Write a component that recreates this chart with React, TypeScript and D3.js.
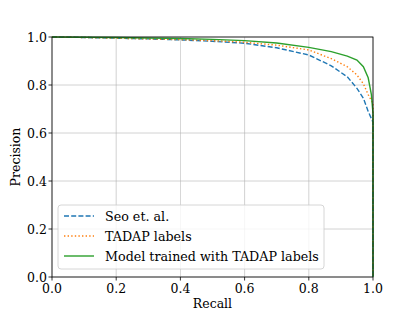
import * as d3 from 'd3';

// recall points (shared by all three curves)
const recall = [0, 0.1, 0.2, 0.3, 0.4, 0.5, 0.6, 0.7, 0.8, 0.87, 0.92, 0.95, 0.97, 0.985, 0.995, 1.0, 1.0];

const seoPrecision = [1.0, 0.998, 0.995, 0.992, 0.988, 0.982, 0.974, 0.955, 0.925, 0.88, 0.834, 0.786, 0.745, 0.69, 0.66, 0.645, 0];
const tadapPrecision = [1.0, 0.998, 0.995, 0.992, 0.989, 0.985, 0.978, 0.966, 0.946, 0.91, 0.876, 0.842, 0.805, 0.76, 0.735, 0.72, 0];
const modelPrecision = [1.0, 0.999, 0.998, 0.996, 0.994, 0.99, 0.985, 0.975, 0.957, 0.939, 0.92, 0.904, 0.876, 0.83, 0.76, 0.68, 0];

const seriesNames = ['Seo et. al.', 'TADAP labels', 'Model trained with TADAP labels'];
const ticks = [0, 0.2, 0.4, 0.6, 0.8, 1.0];

const W = 415;
const H = 311;
const margin = { top: 37, right: 42, bottom: 34, left: 52 };
const FONT = 'DejaVu Serif';
const FS = 12.5;
const LEGEND_FS = 12.7;

const series = [
  { name: seriesNames[0], values: seoPrecision, color: '#1f77b4', dash: '5,2.2' },
  { name: seriesNames[1], values: tadapPrecision, color: '#ff7f0e', dash: '1.4,2.2' },
  { name: seriesNames[2], values: modelPrecision, color: '#2ca02c', dash: undefined },
];

export default function App() {
  const x = d3.scaleLinear().domain([0, 1]).range([margin.left, W - margin.right]);
  const y = d3.scaleLinear().domain([0, 1]).range([H - margin.bottom, margin.top]);

  const line = d3.line<number>()
    .x((_, i) => x(recall[i]))
    .y(d => y(d));

  const x0 = x(0), x1 = x(1), y0 = y(0), y1 = y(1);

  return (
    <svg width={W} height={H} style={{ position: 'absolute', left: 0, top: 0, background: '#fff' }}>
      {/* grid */}
      {ticks.map(t => (
        <g key={'g' + t}>
          <line x1={x(t)} x2={x(t)} y1={y0} y2={y1} stroke="#b0b0b0" strokeWidth={0.8} opacity={0.7} />
          <line x1={x0} x2={x1} y1={y(t)} y2={y(t)} stroke="#b0b0b0" strokeWidth={0.8} opacity={0.7} />
        </g>
      ))}

      {/* curves */}
      <defs>
        <clipPath id="plot">
          <rect x={x0} y={y1 - 2} width={x1 - x0 + 2} height={y0 - y1 + 2} />
        </clipPath>
      </defs>
      <g clipPath="url(#plot)">
        {series.map(s => (
          <path key={s.name} d={line(s.values) ?? ''} fill="none" stroke={s.color}
            strokeWidth={1.4} strokeDasharray={s.dash} />
        ))}
      </g>

      {/* spines */}
      <rect x={x0} y={y1} width={x1 - x0} height={y0 - y1} fill="none" stroke="#000" strokeWidth={0.8} />

      {/* ticks */}
      {ticks.map(t => (
        <g key={'t' + t} fontFamily={FONT} fontSize={FS} fill="#000">
          <line x1={x(t)} x2={x(t)} y1={y0} y2={y0 + 3.5} stroke="#000" strokeWidth={0.8} />
          <text x={x(t)} y={y0 + 16} textAnchor="middle">{t.toFixed(1)}</text>
          <line x1={x0 - 3.5} x2={x0} y1={y(t)} y2={y(t)} stroke="#000" strokeWidth={0.8} />
          <text x={x0 - 5} y={y(t) + 4.5} textAnchor="end">{t.toFixed(1)}</text>
        </g>
      ))}

      <text x={(x0 + x1) / 2} y={308} textAnchor="middle" fontFamily={FONT} fontSize={FS}>Recall</text>
      <text transform={`translate(20,${(y0 + y1) / 2}) rotate(-90)`} textAnchor="middle" fontFamily={FONT} fontSize={FS}>Precision</text>

      {/* legend */}
      <g>
        <rect x={58} y={205} width={266} height={64} rx={3} fill="#fff" fillOpacity={0.8} stroke="#cccccc" strokeWidth={0.8} />
        {series.map((s, i) => {
          const ly = 216 + i * 20;
          return (
            <g key={'l' + s.name}>
              <line x1={64} x2={94} y1={ly} y2={ly} stroke={s.color} strokeWidth={1.4} strokeDasharray={s.dash} />
              <text x={105} y={ly + 4.6} fontFamily={FONT} fontSize={LEGEND_FS}>{s.name}</text>
            </g>
          );
        })}
      </g>
    </svg>
  );
}
